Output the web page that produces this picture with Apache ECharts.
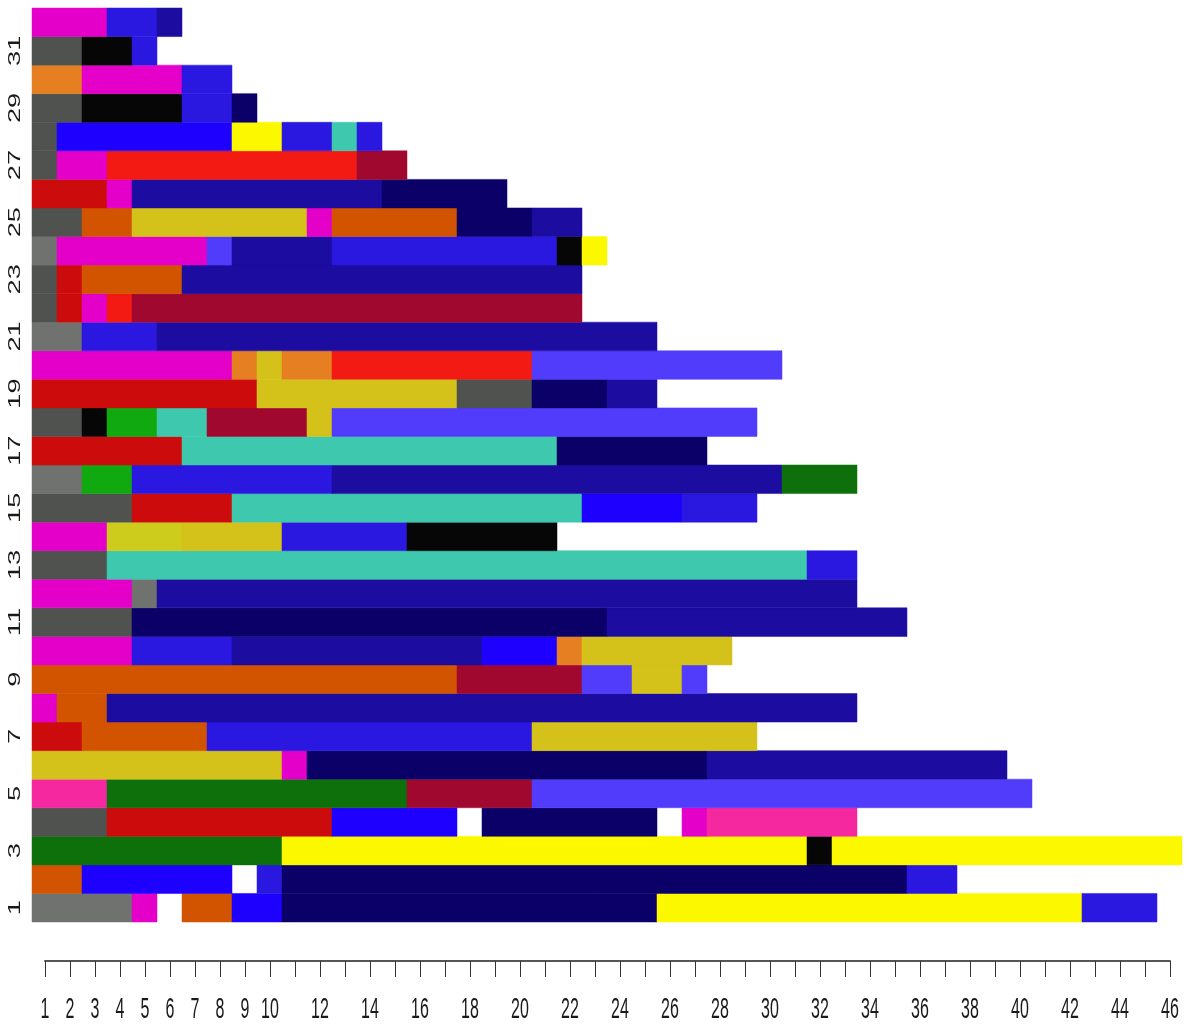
<!DOCTYPE html>
<html>
<head>
<meta charset="utf-8">
<script src="https://cdn.jsdelivr.net/npm/echarts@6/dist/echarts.min.js"></script>
<style>
  html, body { margin: 0; padding: 0; background: #ffffff; }
  #chart { width: 1190px; height: 1025px; }
</style>
</head>
<body>
<div id="chart"></div>
<script>
// ---------- DATA ----------
// Row categories (bottom to top)
const rowLabels = ['1','2','3','4','5','6','7','8','9','10','11','12','13','14','15','16',
                   '17','18','19','20','21','22','23','24','25','26','27','28','29','30','31','32'];

// Y tick labels shown
const yTickLabels = ['1','3','5','7','9','11','13','15','17','19','21','23','25','27','29','31'];

// State of each consecutive run in a row ('_' = empty)
const rowStates = [
  ['G','M','_','O','B','N','Y','U'],          // 1
  ['O','B','_','U','N','U'],                  // 2
  ['F','Y','K','Y'],                          // 3
  ['D','R','B','_','N','_','M','P'],          // 4
  ['P','F','C','V'],                          // 5
  ['A','M','N','I'],                          // 6
  ['R','O','U','A'],                          // 7
  ['M','O','I'],                              // 8
  ['O','C','V','A','V'],                      // 9
  ['M','U','I','B','L','A'],                  // 10
  ['D','N','I'],                              // 11
  ['M','G','I'],                              // 12
  ['D','T','U'],                              // 13
  ['M','E','A','U','K'],                      // 14
  ['D','R','T','B','U'],                      // 15
  ['G','H','U','I','F'],                      // 16
  ['R','T','N'],                              // 17
  ['D','K','H','T','C','A','V'],              // 18
  ['R','A','D','N','I'],                      // 19
  ['M','L','A','L','S','V'],                  // 20
  ['G','U','I'],                              // 21
  ['D','R','M','S','C'],                      // 22
  ['D','R','O','I'],                          // 23
  ['G','M','V','I','U','K','Y'],              // 24
  ['D','O','A','M','O','N','I'],              // 25
  ['R','M','I','N'],                          // 26
  ['D','M','S','C'],                          // 27
  ['D','B','Y','U','T','U'],                  // 28
  ['D','K','U','N'],                          // 29
  ['L','M','U'],                              // 30
  ['D','K','U'],                              // 31
  ['M','U','I']                               // 32
];

// Length (number of time units) of each run
const rowLengths = [
  [4,1,1,2,2,15,17,3],
  [2,6,1,1,25,2],
  [10,21,1,14],
  [3,9,5,1,7,1,1,6],
  [3,12,5,20],
  [10,1,16,12],
  [2,5,13,9],
  [1,2,30],
  [17,5,2,2,1],
  [4,4,10,3,1,6],
  [4,19,12],
  [4,1,28],
  [3,28,2],
  [3,3,4,5,6],
  [4,4,14,4,3],
  [2,2,8,18,3],
  [6,15,6],
  [2,1,2,2,4,1,17],
  [9,8,3,3,2],
  [8,1,1,2,8,10],
  [2,3,20],
  [1,1,1,1,18],
  [1,1,4,16],
  [1,6,1,4,9,1,1],
  [2,2,7,1,5,3,2],
  [3,1,10,5],
  [1,2,10,2],
  [1,7,2,2,1,1],
  [2,4,2,1],
  [2,4,2],
  [2,2,1],
  [3,2,1]
];

// X axis tick labels
const xTickLabels = [1,2,3,4,5,6,7,8,9,10,12,14,16,18,20,22,24,26,28,30,32,34,36,38,40,42,44,46];

// ---------- STYLE ----------
const palette = {
  G: '#6f726f', D: '#4f524f', M: '#e400c8', P: '#f628a0', O: '#d35400', L: '#e67e22',
  B: '#1e00ff', U: '#2a18e0', V: '#503cfa', I: '#1c0ca0', N: '#0a0068', Y: '#fcf800',
  A: '#d4c21a', E: '#cdcc1c', F: '#0d700a', H: '#10aa10', T: '#3ec8ae', R: '#cc0c0c',
  S: '#f21a12', C: '#a00830', K: '#060606'
};
const labelFont = "16px 'Liberation Sans', Arial, sans-serif";
const labelColor = '#1a1a1a';

// ---------- BUILD SEGMENTS ----------
const segs = [];
rowStates.forEach(function (states, r) {
  let pos = 0.5;
  states.forEach(function (st, j) {
    const len = rowLengths[r][j];
    if (st !== '_') segs.push([pos, pos + len, r, st]);
    pos += len;
  });
});

const chart = echarts.init(document.getElementById('chart'), null, { renderer: 'canvas' });

const option = {
  backgroundColor: '#ffffff',
  animation: false,
  grid: [
    { left: 32, right: 8, top: 8, height: 914 },
    { left: 45, right: 20, top: 900, height: 61 }
  ],
  xAxis: [
    { gridIndex: 0, type: 'value', min: 0.5, max: 46.5, show: false },
    {
      gridIndex: 1, type: 'value', min: 1, max: 46, interval: 1,
      axisLine: { show: true, lineStyle: { color: '#555555', width: 2 } },
      axisTick: { show: true, length: 16, lineStyle: { color: '#333333', width: 1 } },
      splitLine: { show: false },
      axisLabel: { show: false }
    }
  ],
  yAxis: [
    {
      gridIndex: 0, type: 'category', data: rowLabels,
      axisLine: { show: false }, axisTick: { show: false }, splitLine: { show: false },
      axisLabel: { show: false }
    },
    { gridIndex: 1, type: 'value', show: false }
  ],
  series: [{
    type: 'custom',
    xAxisIndex: 0,
    yAxisIndex: 0,
    data: segs.map(function (s) { return [s[0], s[1], s[2]]; }),
    encode: { x: [0, 1], y: 2 },
    renderItem: function (params, api) {
      const s = segs[params.dataIndex];
      const p0 = api.coord([api.value(0), api.value(2)]);
      const p1 = api.coord([api.value(1), api.value(2)]);
      const h = api.size([0, 1])[1];
      return {
        type: 'rect',
        shape: { x: p0[0], y: p0[1] - h / 2, width: p1[0] - p0[0], height: h },
        style: { fill: palette[s[3]], stroke: palette[s[3]], lineWidth: 0.5 }
      };
    }
  }]
};

chart.setOption(option);

// Tick labels drawn as (stretched) text, placed through the axes' own scales
const graphics = [];
xTickLabels.forEach(function (v) {
  const px = chart.convertToPixel({ xAxisIndex: 1 }, v);
  graphics.push({
    type: 'text', x: px, y: 1010, scaleX: 1, scaleY: 1.9,
    style: { text: String(v), font: labelFont, fill: labelColor, align: 'center', verticalAlign: 'middle' }
  });
});
yTickLabels.forEach(function (lab) {
  const py = chart.convertToPixel({ yAxisIndex: 0 }, lab);
  graphics.push({
    type: 'text', x: 15.5, y: py, rotation: Math.PI / 2, scaleX: 1.7, scaleY: 1,
    style: { text: lab, font: labelFont, fill: labelColor, align: 'center', verticalAlign: 'middle' }
  });
});
chart.setOption({ graphic: graphics });
</script>
</body>
</html>
